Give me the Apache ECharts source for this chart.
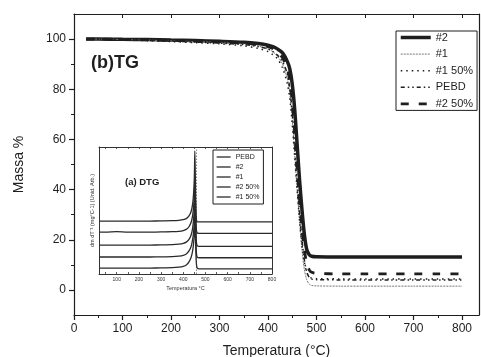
<!DOCTYPE html>
<html><head><meta charset="utf-8">
<script src="https://cdn.jsdelivr.net/npm/echarts@6/dist/echarts.min.js"></script>
<style>html,body{margin:0;padding:0;background:#fff}#c{width:481px;height:357px}</style>
</head><body><div id="c"></div>
<script>
// ---- Main TG data ----
const tgTemp = [25, 50, 100, 150, 200, 250, 300, 350, 380, 400, 410, 420, 430, 440, 445, 450, 455, 460, 465, 470, 475, 480, 485, 490, 500, 550, 600, 650, 700, 750, 800];
const tg_2    = [100, 100, 99.9, 99.8, 99.6, 99.4, 99.1, 98.7, 98.2, 97.6, 97, 96, 94.5, 91, 88, 82, 72, 58, 44, 32, 22, 16, 14, 13.4, 13.2, 13.1, 13.1, 13.1, 13.1, 13.1, 13.1];
const tg_1    = [100, 100, 99.8, 99.6, 99.3, 99, 98.6, 98, 97.2, 96, 95, 93, 90, 84, 78, 68, 54, 40, 27, 16, 8, 4, 2.3, 1.8, 1.6, 1.5, 1.5, 1.5, 1.5, 1.5, 1.5];
const tg_1_50 = [100, 99.9, 99.7, 99.4, 99, 98.6, 98.1, 97.3, 96.3, 95, 93.8, 92, 88.5, 82, 76, 66, 53, 40, 28, 18, 11, 7, 5.2, 4.7, 4.5, 4.4, 4.4, 4.4, 4.4, 4.4, 4.4];
const tg_pebd = [100, 100, 99.8, 99.5, 99.2, 98.8, 98.4, 97.8, 97, 96, 95, 93.5, 91, 86, 80, 71, 58, 44, 31, 20, 12, 7, 5, 4.3, 4.1, 4, 4, 4, 4, 4, 4];
const tg_2_50 = [100, 100, 99.9, 99.7, 99.5, 99.2, 98.9, 98.4, 97.8, 97, 96.2, 95, 92.5, 88, 83, 75, 63, 49, 36, 25, 16, 10.5, 8, 7, 6.6, 6.4, 6.4, 6.4, 6.4, 6.4, 6.4];
const tgXTicks = [0, 100, 200, 300, 400, 500, 600, 700, 800];
const tgXMinor = [50, 150, 250, 350, 450, 550, 650, 750];
const tgYTicks = [0, 20, 40, 60, 80, 100];
const tgYMinor = [10, 30, 50, 70, 90];

// ---- Inset DTG data (arbitrary units, offset curves) ----
const dtgTemp = [20, 50, 100, 150, 200, 250, 300, 350, 380, 400, 415, 425, 435, 442, 447, 450, 452, 454, 456, 458, 461, 465, 470, 480, 500, 550, 600, 650, 700, 750, 800];
const dtg_pebd = [41.7, 41.7, 41.7, 41.7, 41.7, 41.7, 41.8, 42, 42.3, 42.8, 43.8, 45.5, 49, 55, 65, 77, 97, 80, 58, 45, 41.2, 41, 41, 41, 41, 41, 41, 41, 41, 41, 41];
const dtg_2    = [33, 33, 33.3, 33, 33, 33, 33.1, 33.3, 33.6, 34.2, 35.3, 37, 40.5, 46, 54, 63, 72, 64, 48, 37, 33, 32.2, 32, 32, 32, 32, 32, 32, 32, 32, 32];
const dtg_1    = [22.8, 22.8, 22.8, 22.8, 22.8, 22.8, 22.9, 23.1, 23.5, 24.1, 25.3, 27, 30.5, 36, 44, 52, 60, 54, 40, 28, 23, 22, 21.8, 21.8, 21.8, 21.8, 21.8, 21.8, 21.8, 21.8, 21.8];
const dtg_2_50 = [13.4, 13.4, 13.4, 13.4, 13.4, 13.4, 13.5, 13.7, 14.1, 14.7, 16, 18, 21.5, 27, 34, 42, 50, 45, 32, 20, 14, 13, 12.8, 12.8, 12.8, 12.8, 12.8, 12.8, 12.8, 12.8, 12.8];
const dtg_1_50 = [4.7, 4.7, 4.7, 4.7, 4.7, 4.7, 4.8, 5, 5.4, 6, 7.3, 9.3, 13, 18, 25, 32, 40, 35, 23, 11, 5.5, 4.3, 4.1, 4.1, 4.1, 4.1, 4.1, 4.1, 4.1, 4.1, 4.1];
const dtgXTicks = [100, 200, 300, 400, 500, 600, 700, 800];
const dtgXMinor = [50, 100, 150, 200, 250, 300, 350, 400, 450, 500, 550, 600, 650, 700, 750, 800];

const pairs = (xs, ys) => xs.map((x, i) => [x, ys[i]]);
const FONT = "'Liberation Sans', Arial, sans-serif";
const INK = '#1e1e1e';

const mainSeries = [
  { name: '#2', data: tg_2, ls: { width: 3.5, type: 'solid', color: INK } },
  { name: '#1', data: tg_1, ls: { width: 1, type: [2, 1], color: '#777' } },
  { name: '#1 50%', data: tg_1_50, ls: { width: 1.5, type: [1.5, 4], color: INK } },
  { name: 'PEBD', data: tg_pebd, ls: { width: 1.5, type: [4, 3, 1.5, 3, 1.5, 3], color: INK } },
  { name: '#2 50%', data: tg_2_50, ls: { width: 2.8, type: [8, 10], color: INK } }
];
const insetSeries = [
  { name: 'i:PEBD', data: dtg_pebd },
  { name: 'i:#2', data: dtg_2 },
  { name: 'i:#1', data: dtg_1 },
  { name: 'i:#2 50%', data: dtg_2_50 },
  { name: 'i:#1 50%', data: dtg_1_50 }
];

const series = [];
mainSeries.forEach(s => series.push({
  type: 'line', name: s.name, xAxisIndex: 0, yAxisIndex: 0,
  data: pairs(tgTemp, s.data), symbol: 'none', smooth: 0.3,
  lineStyle: s.ls, itemStyle: { color: s.ls.color }, z: 3
}));
insetSeries.forEach((s, i) => series.push({
  type: 'line', name: s.name, xAxisIndex: 3, yAxisIndex: 3,
  data: pairs(dtgTemp, s.data), symbol: 'none', smooth: 0.25,
  lineStyle: { width: 1.3, color: '#2a2a2a' }, itemStyle: { color: '#2a2a2a' }, z: 5,
  markLine: i === 0 ? { silent: true, symbol: 'none', label: { show: false },
    lineStyle: { type: [1.5, 1.5], color: '#888', width: 1 }, data: [{ xAxis: 458 }] } : undefined
}));

const axLine = { show: true, onZero: false, lineStyle: { color: INK, width: 1.2 } };
const inLine = { show: true, onZero: false, lineStyle: { color: '#333', width: 1 } };
const noLab = { show: false };

const option = {
  animation: false,
  backgroundColor: '#fff',
  textStyle: { fontFamily: FONT, color: INK },
  title: [
    { text: '(b)TG', left: 86, top: 49, textStyle: { fontFamily: FONT, fontSize: 18, fontWeight: 'bold', color: INK } },
    { text: '(a) DTG', left: 120, top: 172, z: 8, textStyle: { fontFamily: FONT, fontSize: 9.5, fontWeight: 'bold', color: INK } }
  ],
  legend: [
    {
      data: mainSeries.map(s => s.name), orient: 'vertical', left: 396, top: 31,
      itemWidth: 30, itemHeight: 12, itemGap: 5.6, padding: [1, 4, 1, 3],
      borderColor: INK, borderWidth: 1, backgroundColor: '#fff',
      lineStyle: { width: 'inherit' }, itemStyle: { opacity: 0 }, selectedMode: false,
      textStyle: { fontFamily: FONT, fontSize: 11, color: INK }
    },
    {
      data: insetSeries.map(s => s.name), orient: 'vertical', left: 213, top: 150, z: 8,
      itemWidth: 14, itemHeight: 8, itemGap: 2, padding: [3, 4, 3, 3],
      borderColor: INK, borderWidth: 1, backgroundColor: '#fff',
      lineStyle: { width: 'inherit' }, itemStyle: { opacity: 0 }, selectedMode: false,
      formatter: n => n.slice(2),
      textStyle: { fontFamily: FONT, fontSize: 7, lineHeight: 8, color: INK }
    }
  ],
  grid: [
    { left: 74, right: 2, top: 14, bottom: 42, show: false, outerBoundsMode: 'none', containLabel: false },
    { left: 99, top: 147, width: 173, height: 127, show: true, backgroundColor: '#fff', borderWidth: 0, outerBoundsMode: 'none', containLabel: false }
  ],
  xAxis: [
    { type: 'value', gridIndex: 0, position: 'bottom', min: 0, max: 835,
      axisLine: axLine, splitLine: { show: false },
      axisTick: { show: true, customValues: tgXTicks, length: 5, lineStyle: { color: INK, width: 1.2 } },
      axisLabel: { customValues: tgXTicks, fontSize: 12, color: INK, margin: 8, fontFamily: FONT },
      name: 'Temperatura (°C)', nameLocation: 'middle', nameGap: 29,
      nameTextStyle: { fontSize: 14, color: INK, fontFamily: FONT } },
    { type: 'value', gridIndex: 0, position: 'bottom', min: 0, max: 835,
      axisLine: { show: false, onZero: false }, splitLine: { show: false }, axisLabel: noLab,
      axisTick: { show: true, customValues: tgXMinor, length: 3, lineStyle: { color: INK, width: 1 } } },
    { type: 'value', gridIndex: 0, position: 'top', min: 0, max: 835,
      axisLine: axLine, splitLine: { show: false }, axisLabel: noLab,
      axisTick: { show: true, inside: true, customValues: tgXTicks, length: 4, lineStyle: { color: INK, width: 1 } } },
    { type: 'value', gridIndex: 1, position: 'bottom', min: 20, max: 800, z: 7,
      axisLine: inLine, splitLine: { show: false },
      axisTick: { show: true, inside: true, customValues: dtgXMinor, length: 2, lineStyle: { color: '#333', width: 0.8 } },
      axisLabel: { customValues: dtgXTicks, fontSize: 5, color: '#333', margin: 3, fontFamily: FONT },
      name: 'Temperatura °C', nameLocation: 'middle', nameGap: 11,
      nameTextStyle: { fontSize: 5.5, color: '#333', fontFamily: FONT } },
    { type: 'value', gridIndex: 1, position: 'top', min: 20, max: 800, z: 7,
      axisLine: inLine, splitLine: { show: false },
      axisLabel: noLab,
      axisTick: { show: true, inside: true, customValues: dtgXMinor, length: 2, lineStyle: { color: '#333', width: 0.8 } } }
  ],
  yAxis: [
    { type: 'value', gridIndex: 0, position: 'left', min: -10, max: 110,
      axisLine: axLine, splitLine: { show: false },
      axisTick: { show: true, customValues: tgYTicks, length: 5, lineStyle: { color: INK, width: 1.2 } },
      axisLabel: { customValues: tgYTicks, fontSize: 12, color: INK, margin: 8, fontFamily: FONT },
      name: 'Massa %', nameLocation: 'middle', nameGap: 48, nameRotate: 90,
      nameTextStyle: { fontSize: 14, color: INK, fontFamily: FONT } },
    { type: 'value', gridIndex: 0, position: 'left', min: -10, max: 110,
      axisLine: { show: false, onZero: false }, splitLine: { show: false }, axisLabel: noLab,
      axisTick: { show: true, customValues: tgYMinor, length: 3, lineStyle: { color: INK, width: 1 } } },
    { type: 'value', gridIndex: 0, position: 'right', min: -10, max: 110,
      axisLine: axLine, splitLine: { show: false }, axisLabel: noLab, axisTick: { show: false } },
    { type: 'value', gridIndex: 1, position: 'left', min: 0, max: 100, z: 7,
      axisLine: inLine, splitLine: { show: false },
      axisLabel: noLab, axisTick: { show: false },
      name: 'dm dT⁻¹ (mg°C-1) (Unid. Arb.)', nameLocation: 'middle', nameGap: 4, nameRotate: 90,
      nameTextStyle: { fontSize: 5.5, color: '#333', fontFamily: FONT } },
    { type: 'value', gridIndex: 1, position: 'right', min: 0, max: 100, z: 7,
      axisLine: inLine, splitLine: { show: false },
      axisLabel: noLab, axisTick: { show: false } }
  ],
  series: series
};

const chart = echarts.init(document.getElementById('c'), null, { renderer: 'canvas' });
chart.setOption(option);
</script>
</body></html>
